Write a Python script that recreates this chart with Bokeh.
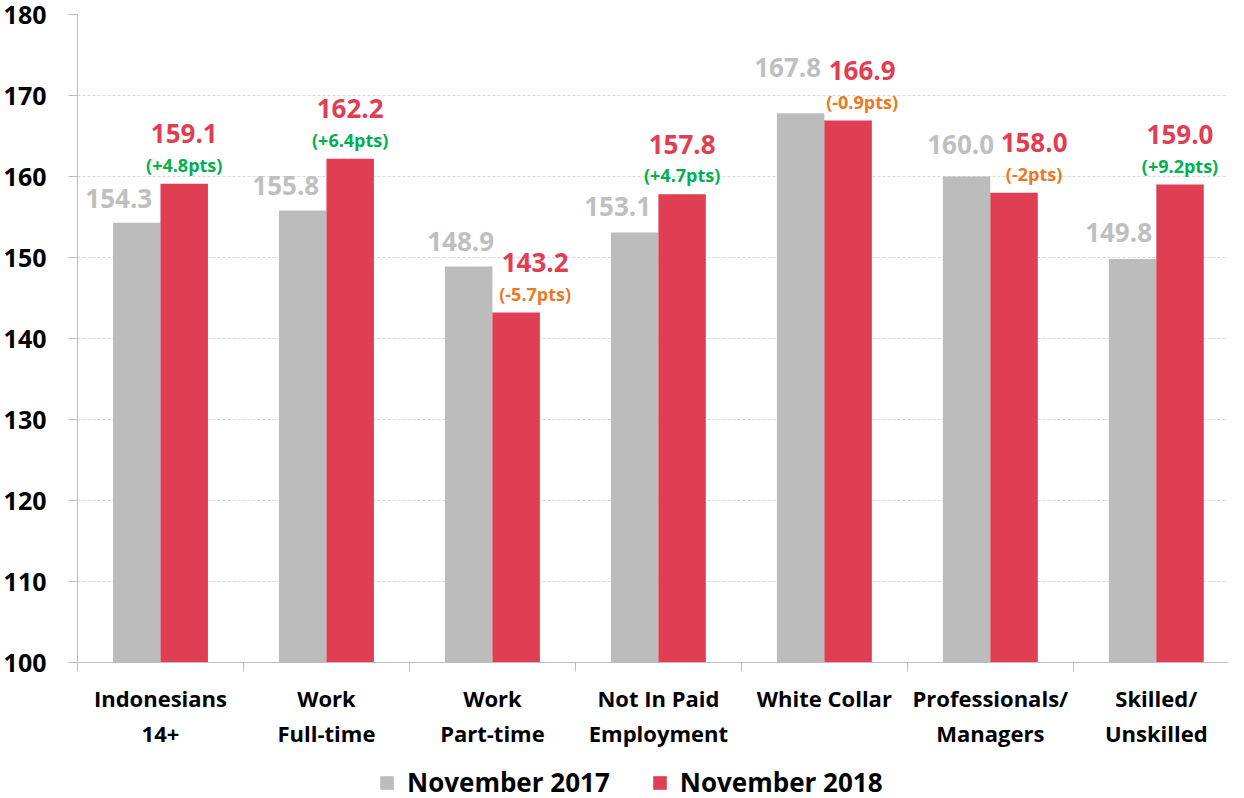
from bokeh.plotting import figure
from bokeh.models import (ColumnDataSource, FixedTicker, Range1d, Legend, LegendItem)
from bokeh.layouts import column
from bokeh.embed import file_html
from bokeh.resources import INLINE
from bokeh.core.properties import value

# ---- data ----
categories = ["Indonesians\n14+", "Work\nFull-time", "Work\nPart-time",
              "Not In Paid\nEmployment", "White Collar", "Professionals/\nManagers",
              "Skilled/\nUnskilled"]
nov_2017 = [154.3, 155.8, 148.9, 153.1, 167.8, 160.0, 149.8]
nov_2018 = [159.1, 162.2, 143.2, 157.8, 166.9, 158.0, 159.0]
series_names = ["November 2017", "November 2018"]
y_ticks = [100, 110, 120, 130, 140, 150, 160, 170, 180]

# label placement tweaks (screen pixels), as in the original chart
gray_dx = [-18, -17, -8, -17, -13, -6, -14]
gray_dy = [24, 25, 25, 26, 46, 32, 27]
red_dx = [0, 0, 19, 0, 14, 20, 0]

FONT = "Open Sans"
GRAY = "#BBBCBB"
GRAY_TXT = "#BFBFBF"
RED = "#E03E53"
GREEN = "#00B050"
ORANGE = "#E97A25"

n = len(categories)
bar_w = 0.286
off = 0.143
centers = [i + 0.5 for i in range(n)]


def fmt_delta(d):
    s = f"{d:+.1f}"
    if s.endswith(".0"):
        s = s[:-2]
    return f"({s}pts)"


deltas = [b - a for a, b in zip(nov_2017, nov_2018)]

src = ColumnDataSource(dict(
    xg=[c - off for c in centers],
    xr=[c + off for c in centers],
    v17=nov_2017,
    v18=nov_2018,
    t17=[f"{v:.1f}" for v in nov_2017],
    t18=[f"{v:.1f}" for v in nov_2018],
    td=[fmt_delta(d) for d in deltas],
    dcol=[GREEN if d >= 0 else ORANGE for d in deltas],
    gdx=gray_dx,
    gdy=[-d for d in gray_dy],
    rdx=red_dx,
))

p = figure(width=1228, height=759, output_backend="svg", toolbar_location=None,
           x_range=Range1d(0, 6.935), y_range=Range1d(100, 180),
           min_border_left=73, min_border_top=14, min_border_right=0,
           min_border_bottom=97)
p.outline_line_color = None
p.background_fill_color = "white"
p.border_fill_color = "white"

r17 = p.vbar(x="xg", top="v17", bottom=100, width=bar_w, source=src,
             fill_color=GRAY, line_color=None)
r18 = p.vbar(x="xr", top="v18", bottom=100, width=bar_w, source=src,
             fill_color=RED, line_color=None)

# value labels
p.text(x="xg", y="v17", text="t17", source=src, x_offset="gdx", y_offset="gdy",
       text_align="center", text_baseline="middle", text_color=GRAY_TXT,
       text_font=value(FONT), text_font_style="bold", text_font_size="26px")
p.text(x="xr", y="v18", text="t18", source=src, x_offset="rdx", y_offset=-50,
       text_align="center", text_baseline="middle", text_color=RED,
       text_font=value(FONT), text_font_style="bold", text_font_size="26px")
p.text(x="xr", y="v18", text="td", source=src, x_offset="rdx", y_offset=-19,
       text_align="center", text_baseline="middle", text_color="dcol",
       text_font=value(FONT), text_font_style="bold", text_font_size="18px")

# grid
p.xgrid.visible = False
p.ygrid.ticker = FixedTicker(ticks=y_ticks[1:])
p.ygrid.grid_line_color = "#D9D9D9"
p.ygrid.grid_line_dash = "3 2"
p.ygrid.grid_line_width = 1

# y axis
p.yaxis.ticker = FixedTicker(ticks=y_ticks)
p.yaxis.axis_line_color = "#BFBFBF"
p.yaxis.major_tick_line_color = "#BFBFBF"
p.yaxis.major_tick_out = 9
p.yaxis.major_tick_in = 0
p.yaxis.minor_tick_line_color = None
p.yaxis.major_label_text_font = FONT
p.yaxis.major_label_text_font_style = "bold"
p.yaxis.major_label_text_font_size = "25px"
p.yaxis.major_label_text_color = "black"
p.yaxis.major_label_standoff = 22

# x axis
p.xaxis.ticker = FixedTicker(ticks=centers, minor_ticks=list(range(n + 1)))
p.xaxis.major_label_overrides = {c: lab for c, lab in zip(centers, categories)}
p.xaxis.axis_line_color = "#BFBFBF"
p.xaxis.major_tick_line_color = None
p.xaxis.minor_tick_line_color = "#BFBFBF"
p.xaxis.minor_tick_out = 9
p.xaxis.minor_tick_in = 0
p.xaxis.major_label_text_font = FONT
p.xaxis.major_label_text_font_style = "bold"
p.xaxis.major_label_text_font_size = "22px"
p.xaxis.major_label_text_color = "black"
p.xaxis.major_label_text_line_height = 1.17
p.xaxis.major_label_standoff = 11

# legend strip below the chart
lg = figure(width=1228, height=46, output_backend="svg", toolbar_location=None,
            x_range=Range1d(0, 1), y_range=Range1d(0, 1),
            x_axis_type=None, y_axis_type=None,
            min_border_left=73, min_border_right=0, min_border_top=0,
            min_border_bottom=0)
lg.outline_line_color = None
lg.grid.visible = False
g17 = lg.vbar(x=[5], top=[1], width=0.1, fill_color=GRAY, line_color=None)
g18 = lg.vbar(x=[5], top=[1], width=0.1, fill_color=RED, line_color=None)
legend = Legend(items=[LegendItem(label=series_names[0], renderers=[g17]),
                       LegendItem(label=series_names[1], renderers=[g18])],
                orientation="horizontal", location="left",
                label_text_font=FONT, label_text_font_style="bold",
                label_text_font_size="26px", label_text_color="black",
                glyph_width=17, glyph_height=17, label_standoff=12, spacing=41,
                padding=0, margin=301, border_line_color=None,
                background_fill_alpha=0)
lg.add_layout(legend, "center")

layout = column(p, lg, spacing=0)
open("out.html", "w").write(file_html(layout, INLINE))
